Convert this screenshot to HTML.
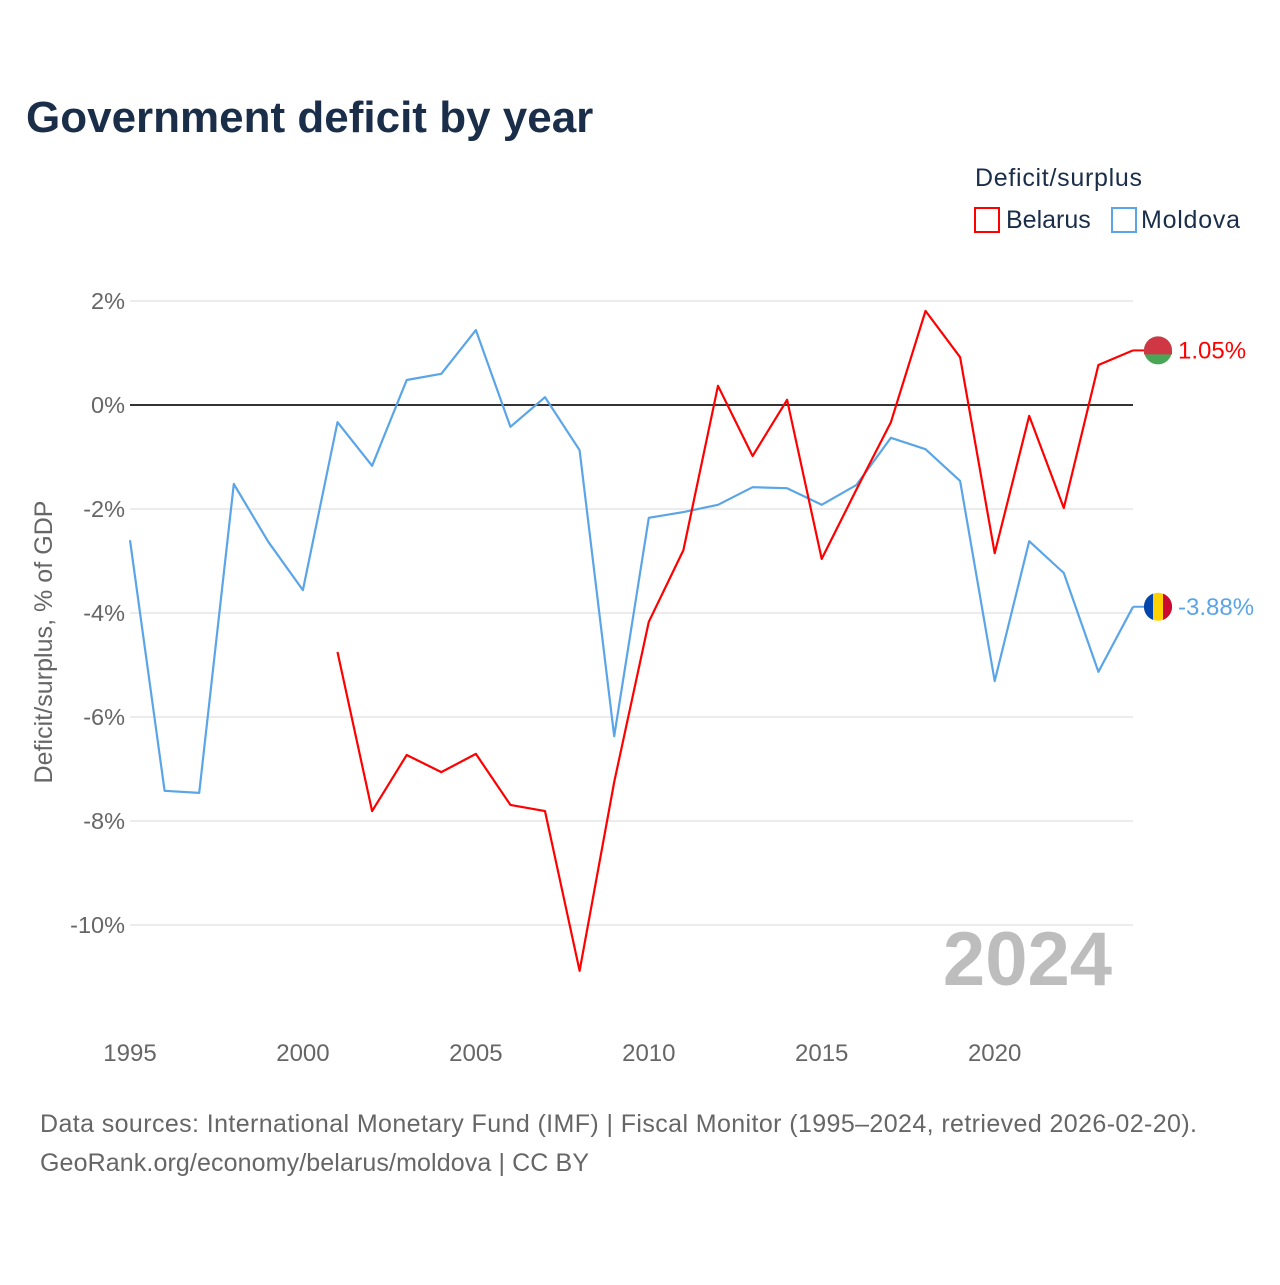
<!DOCTYPE html>
<html><head><meta charset="utf-8">
<style>
body{margin:0;background:#fff;font-family:"Liberation Sans",sans-serif;}
svg text{font-family:"Liberation Sans",sans-serif;}
</style></head>
<body>
<svg id="chart" width="1280" height="1280" viewBox="0 0 1280 1280">
<text x="26" y="132" font-size="44" font-weight="bold" fill="#1a2e4a">Government deficit by year</text>
<text x="975" y="186" font-size="25" fill="#1a2e4a" textLength="167">Deficit/surplus</text>
<g><rect x="975" y="208" width="24" height="24" fill="none" stroke="#ff0000" stroke-width="2"/><text x="1006" y="228" font-size="25" fill="#1a2e4a">Belarus</text></g>
<g><rect x="1112" y="208" width="24" height="24" fill="none" stroke="#5aa5e8" stroke-width="2"/><text x="1141" y="228" font-size="25" fill="#1a2e4a" textLength="99">Moldova</text></g>
<g id="grid"></g>
<text x="1112" y="985" font-size="76" font-weight="bold" fill="#bdbdbd" text-anchor="end">2024</text>
<g id="series"></g>
<text transform="translate(52,642) rotate(-90)" font-size="25" fill="#666" text-anchor="middle" textLength="283">Deficit/surplus, % of GDP</text>
<text x="40" y="1132" font-size="25" fill="#666" textLength="1157">Data sources: International Monetary Fund (IMF) | Fiscal Monitor (1995–2024, retrieved 2026-02-20).</text>
<text x="40" y="1171" font-size="25" fill="#666" textLength="549">GeoRank.org/economy/belarus/moldova | CC BY</text>
</svg>
<script>
const years=[1995,1996,1997,1998,1999,2000,2001,2002,2003,2004,2005,2006,2007,2008,2009,2010,2011,2012,2013,2014,2015,2016,2017,2018,2019,2020,2021,2022,2023,2024];
const moldova=[-2.6,-7.42,-7.46,-1.52,-2.63,-3.56,-0.33,-1.17,0.48,0.6,1.44,-0.42,0.15,-0.87,-6.37,-2.17,-2.06,-1.92,-1.58,-1.6,-1.92,-1.54,-0.63,-0.85,-1.46,-5.31,-2.62,-3.23,-5.13,-3.88];
const belarus=[null,null,null,null,null,null,-4.75,-7.81,-6.73,-7.06,-6.71,-7.69,-7.81,-10.88,-7.25,-4.17,-2.79,0.37,-0.98,0.1,-2.96,-1.63,-0.33,1.81,0.92,-2.85,-0.21,-1.98,0.77,1.05];
const yTicks=[2,0,-2,-4,-6,-8,-10];
const xTicks=[1995,2000,2005,2010,2015,2020];
const NS='http://www.w3.org/2000/svg';
const x=v=>130+(v-1995)*(1133-130)/29;
const y=v=>405-v*52;
function mk(tag,attrs,parent){const e=document.createElementNS(NS,tag);for(const k in attrs)e.setAttribute(k,attrs[k]);parent.appendChild(e);return e;}
const grid=document.getElementById('grid'),ser=document.getElementById('series');
yTicks.forEach(t=>{
 const l=mk('line',{x1:130,x2:1133,y1:y(t),y2:y(t),stroke:t===0?'#333':'#e6e6e6','stroke-width':t===0?2:1.5},grid);
 
 
 const tx=mk('text',{x:125,y:y(t)+8,'font-size':23.5,fill:'#666','text-anchor':'end'},grid);
 tx.textContent=t+'%';
 
 
});
xTicks.forEach(t=>{
 const tx=mk('text',{x:x(t),y:1061,'font-size':24,fill:'#666','text-anchor':'middle'},grid);
 tx.textContent=t;
 
 
});
function line(vals,color,name){
 let d='';vals.forEach((v,i)=>{if(v==null)return;d+=(d?'L':'M')+x(years[i]).toFixed(1)+','+y(v).toFixed(1);});
 const p=mk('path',{d:d,fill:'none',stroke:color,'stroke-width':2.2,'stroke-linejoin':'round'},ser);
 
 
}
line(moldova,'#5aa5e8','moldova-line');
line(belarus,'#ff0000','belarus-line');
function endLabel(vals,color,name,flag){
 const v=vals[vals.length-1],cx=1158,cy=y(v);
 const g=mk('g',{},ser);
 
 
 mk('line',{x1:1133,x2:1145,y1:cy,y2:cy,stroke:color,'stroke-width':2},g);
 if(flag==='by'){mk('circle',{cx:cx,cy:cy,r:14,fill:'#4aa657'},g);mk('path',{d:`M${cx-14},${cy} A14,14 0 0 1 ${cx+14},${cy} L${cx+14},${cy+4} L${cx-14},${cy+4}Z`,fill:'#ce3743'},g);}
 else{mk('circle',{cx:cx,cy:cy,r:14,fill:'#ffd200'},g);mk('path',{d:`M${cx-5},${cy-13.1} A14,14 0 0 0 ${cx-5},${cy+13.1}Z`,fill:'#0046ae'},g);mk('path',{d:`M${cx+5},${cy-13.1} A14,14 0 0 1 ${cx+5},${cy+13.1}Z`,fill:'#cc092f'},g);}
 const t=mk('text',{x:1178,y:cy+8,'font-size':24,fill:color},g);
 t.textContent=v.toFixed(2)+'%';
}
endLabel(belarus,'#ff0000','belarus-end-label','by');
endLabel(moldova,'#5aa5e8','moldova-end-label','md');
</script>
</body></html>
